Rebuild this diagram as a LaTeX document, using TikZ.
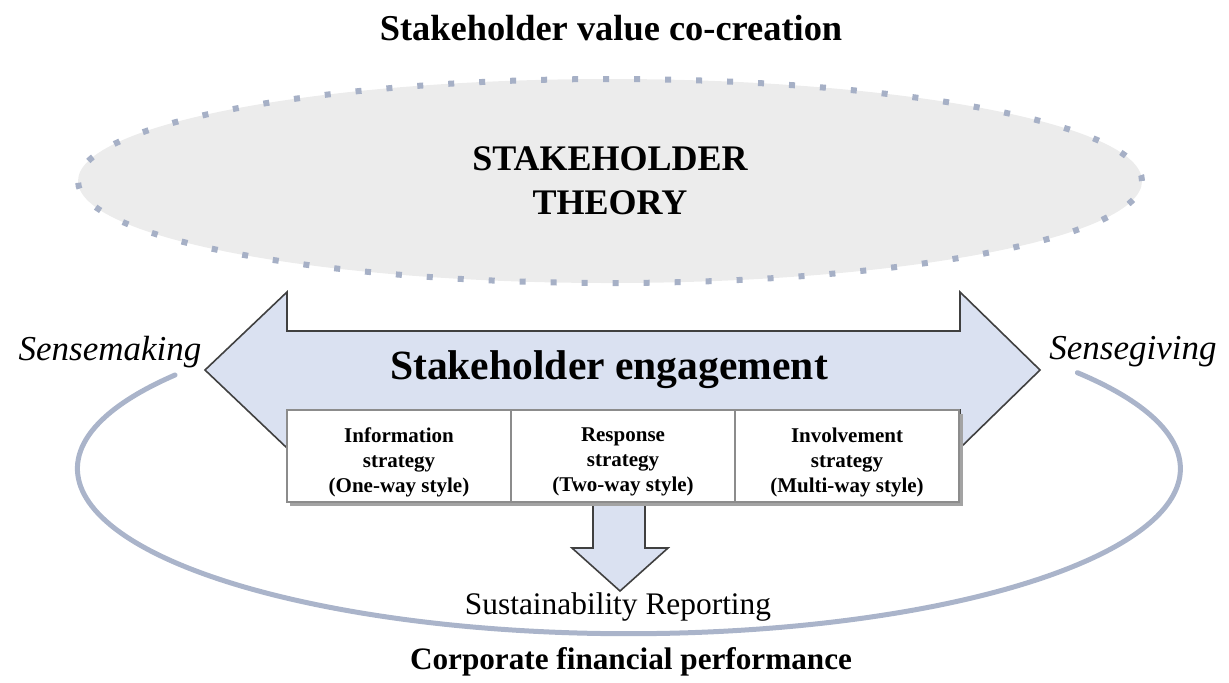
\documentclass[tikz,border=0pt]{standalone}
\usepackage{fontspec}
\setmainfont{Liberation Serif}
\usepackage{tikz}
\usetikzlibrary{arrows}
\usetikzlibrary{positioning}
\usetikzlibrary{shapes.geometric}

\definecolor{ellfill}{RGB}{236,236,236}
\definecolor{dotblue}{RGB}{166,176,198}
\definecolor{arrowfill}{RGB}{218,225,241}
\definecolor{arrowline}{RGB}{64,64,64}
\definecolor{tableline}{RGB}{140,140,140}
\definecolor{loopblue}{RGB}{170,180,202}

\begin{document}
\begin{tikzpicture}
	[x=0.5pt,y=-0.5pt,
	cellbox/.style={draw=tableline,line width=1pt,fill=white,minimum width=112pt,minimum height=46pt,inner sep=0pt},
	celltext/.style={inner sep=0pt,align=center,font=\fontsize{10.5}{12.5}\selectfont\bfseries},
	bigarrow/.style={draw=arrowline,line width=0.8pt,fill=arrowfill,line join=miter}]
	\useasboundingbox (0,0) rectangle (1229,682);

	% theory ellipse
	\node[ellipse,fill=ellfill,draw=dotblue,line width=3pt,dash pattern=on 3pt off 12.5pt,minimum width=532pt,minimum height=102pt,inner sep=0pt,align=center,font=\fontsize{18}{22}\selectfont\bfseries] (theory) at (610,181) {STAKEHOLDER\\THEORY};
	\node[font=\fontsize{18.2}{22}\selectfont\bfseries] (cocreation) at (611,28) {Stakeholder value co-creation};

	% loop under the arrow
	\coordinate (loopstart) at (175,375);
	\draw[loopblue,line width=2.5pt,line cap=round] (loopstart) arc[start angle=214.6,end angle=-35.6,x radius=551.5,y radius=165];

	% engagement arrow
	\draw[bigarrow] (205,370) -- (287,292) -- (287,331) -- (960,331) -- (960,292) -- (1040,370) -- (960,448) -- (960,410) -- (287,410) -- (287,448) -- cycle;
	\node[font=\fontsize{20.8}{25}\selectfont\bfseries] (engage) at (609,370) {Stakeholder engagement};
	\node[font=\fontsize{17.5}{22}\selectfont\itshape] (making) at (110,352) {Sensemaking};
	\node[font=\fontsize{17.5}{22}\selectfont\itshape] (giving) at (1133,352) {Sensegiving};

	% reporting arrow
	\draw[bigarrow] (593,500) -- (593,548) -- (572,548) -- (620,591) -- (668,548) -- (645,548) -- (645,500) -- cycle;

	% strategy table
	\fill[tableline!80] (290,414) rectangle (963,506);
	\node[cellbox] (info) at (399,456) {};
	\node[cellbox] (resp) at (623,456) {};
	\node[cellbox] (invo) at (847,456) {};
	\node[celltext] (infotext) at ([yshift=-3pt]info.center) {Information\\strategy\\(One-way style)};
	\node[celltext] (resptext) at ([yshift=-3pt]resp.center) {Response\\strategy\\(Two-way style)};
	\node[celltext] (invotext) at ([yshift=-3pt]invo.center) {Involvement\\strategy\\(Multi-way style)};

	\node[font=\fontsize{15.7}{18}\selectfont] (report) at (618,607) {Sustainability Reporting};
	\node[font=\fontsize{15.6}{18}\selectfont\bfseries] (cfp) at (631,662) {Corporate financial performance};
\end{tikzpicture}
\end{document}
